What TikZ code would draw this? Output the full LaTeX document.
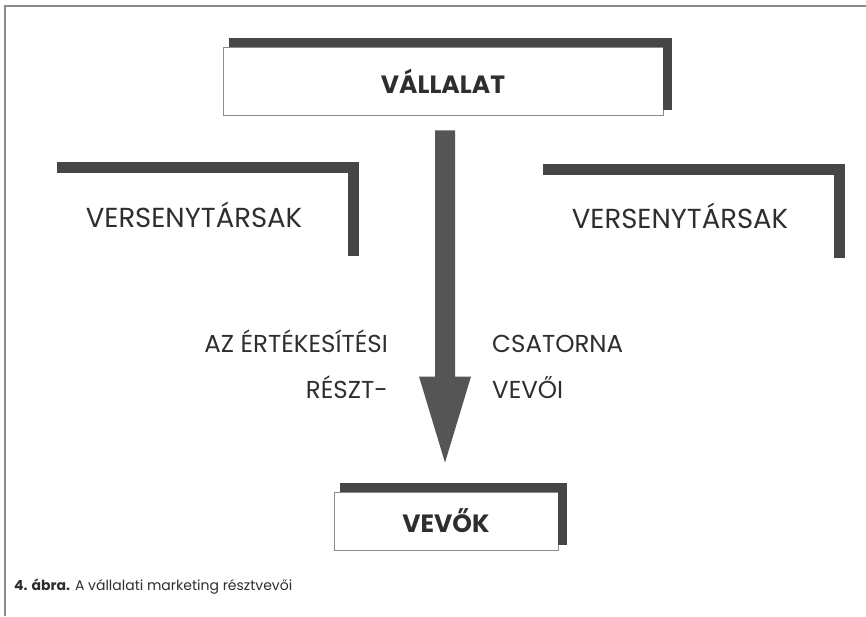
\documentclass[tikz,border=0pt]{standalone}
\usepackage{fontspec}
\setmainfont{Poppins}
\usepackage{xcolor}
\usepackage{tikz}
\usetikzlibrary{calc}
\definecolor{barcol}{HTML}{464646}
\definecolor{linecol}{HTML}{8C8C8C}
\definecolor{textcol}{HTML}{2E2E2E}

\begin{document}
\begin{tikzpicture}[x=1pt,y=1pt,
  mainbox/.style={draw=linecol,line width=0.9pt,fill=white,inner sep=0pt,
    text=textcol,font=\fontsize{25}{29}\selectfont\bfseries},
  compbox/.style={inner sep=0pt,minimum width=306pt,minimum height=83pt,
    text=textcol,font=\fontsize{27.5}{32}\selectfont},
  lbl/.style={inner sep=0pt,text=textcol,font=\fontsize{24.5}{29}\selectfont},
  bar/.style={draw=barcol,line join=miter}]
\useasboundingbox (0,0) rectangle (866,616);
\draw[linecol,line width=1.2pt] (5,0) -- (5,610) -- (866,610);

\node[mainbox,minimum width=440pt,minimum height=68pt] (vallalat) at (443,535) {VÁLLALAT};
\node[mainbox,minimum width=224pt,minimum height=58pt] (vevok) at (446,95) {VEVŐK};
\node[compbox] (konk1) at (194,401.5) {VERSENYTÁRSAK};
\node[compbox] (konk2) at (680,400) {VERSENYTÁRSAK};

% shadow bars on top and right
\foreach \n in {vallalat,vevok}
  \draw[bar,line width=9pt] ([shift={(6,4.5)}]\n.north west) -- ([shift={(4,4.5)}]\n.north east)
    -- ([shift={(4,5)}]\n.south east);
\foreach \n in {konk1,konk2}
  \draw[bar,line width=11pt] ([shift={(16,5)}]\n.north west) -- ([shift={(6,5)}]\n.north east)
    -- ([shift={(6,0)}]\n.south east);

\coordinate (arrtop) at ($(vallalat.south)+(2,-15)$);
\coordinate (arrtip) at ($(vevok.north)+(-1,29)$);
\fill[barcol!92] ($(arrtop)+(-10,0)$) -- ($(arrtop)+(10,0)$) -- ($(arrtip)+(10,86)$)
  -- ($(arrtip)+(26,86)$) -- (arrtip) -- ($(arrtip)+(-26,86)$) -- ($(arrtip)+(-10,86)$) -- cycle;

\node[lbl,anchor=base east] (resztA) at (388,263) {AZ ÉRTÉKESÍTÉSI};
\node[lbl,anchor=base east] (resztB) at (388,218) {RÉSZT-};
\node[lbl,anchor=base west] (csatA) at (492,263) {CSATORNA};
\node[lbl,anchor=base west] (csatB) at (492,218) {VEVŐI};

\node[inner sep=0pt,anchor=base west,text=textcol,font=\fontsize{14}{16}\selectfont] (caption) at (14,26)
  {\textbf{4. ábra.} A vállalati marketing résztvevői};
\end{tikzpicture}
\end{document}
